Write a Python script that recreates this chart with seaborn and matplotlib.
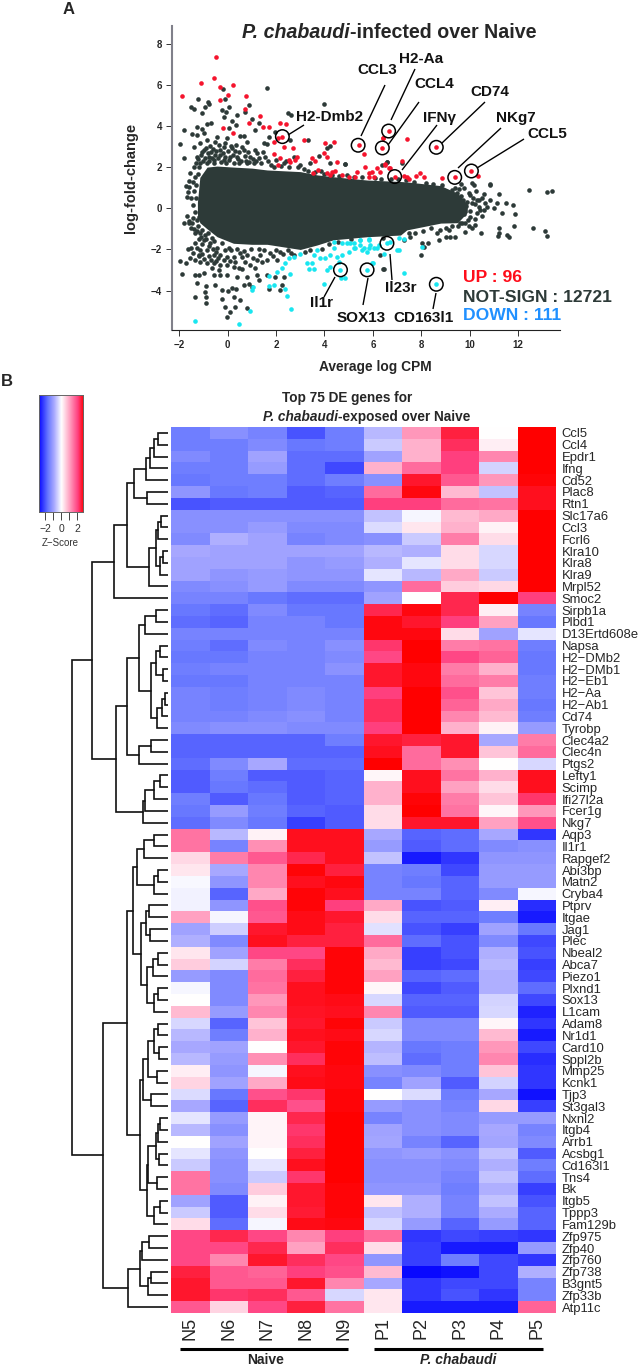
import numpy as np
import pandas as pd
import matplotlib
matplotlib.use("Agg")
import matplotlib.pyplot as plt
import seaborn as sns
from matplotlib.colors import LinearSegmentedColormap
from matplotlib.lines import Line2D

sns.set_theme(style="white")
plt.rcParams['font.family'] = ['Liberation Sans', 'DejaVu Sans']

W, H = 641, 1366

# ---- MA plot data ----
# outline of the dense part of the cloud
body_x = [-1.25, -1.15, -0.85, -0.44, 0.24, 1.0, 1.63, 3.0, 3.7, 4.37, 5.77, 7.14, 7.4, 8.8, 9.5, 9.9]
body_top = [0.3, 1.5, 2.0, 2.05, 2.0, 1.95, 1.86, 1.78, 1.62, 1.53, 1.37, 1.3, 1.28, 1.1, 0.73, 0.2]
body_bottom = [-0.3, -0.7, -1.0, -1.38, -1.7, -1.75, -1.75, -2.0, -1.78, -1.53, -1.38, -1.3, -1.05, -0.72, -0.7, -0.2]

dark_x = [-1.98, -1.79, -1.79, -1.23, -1.52, -1.38, -1.06, -0.95, -0.81, -0.79, -0.19, -0.12, -0.22, -0.06, 0.04, -0.14,
          0.39, 0.87, 0.73, 1.0, 1.63, 2.48, 2.63, 3.97, -1.27, -1.06, -0.85, -0.67, -0.99, -1.47, -1.27, 0.18, 0.36,
          0.04, -0.44, -0.03, 0.52, 0.66, 0.8, 1.14, 1.28, 1.49, 1.69, 1.63, 1.97, 3.31, 4.24, 2.59,
          -1.38, -1.13, -0.85, -0.72, -0.51, -0.3, -0.1, 0.18, 0.39, 0.66, 0.94, 1.21, 1.56, -1.27, -1.06, -0.79, -0.51,
          -0.17, 0.11, 0.45, 0.8, 1.07, -1.4, -1.54, -1.61, -1.34, -1.13, -0.85, -0.58, 1.9, 2.31, 2.73, 3.0, 3.42, 3.76,
          4.1, 4.24, 4.86, 6.58, 6.38,
          -1.96, -1.89, -1.72, -1.64, -1.82, -1.68, -1.68, -1.61, -1.47, -1.34, -1.34, -1.54, -1.34, -1.2, -1.36, -1.2,
          -1.27, -1.34, -0.9, -0.92, -0.9, -0.9, -0.51, -0.23, -0.1, 0.0, 0.18, -0.23, 0.36, 0.25, 0.5, 0.32, 0.11, -0.03,
          0.8, 1.0, 0.66, 0.87, 1.28, 1.69, 2.18, 2.25, 6.45,
          -0.99, -0.72, -0.44, -0.23, 0.04, -1.13, -0.85, -0.58, -0.3, -0.03, 0.25, 0.52, 0.8, -1.13, -0.85, -0.58, -0.3,
          -0.03, 0.25, 0.59, 0.94, 1.21, 1.63, 2.04, -0.99, -0.58, -0.3, -0.03, 0.39, 0.8, 1.21, 1.63, 1.97, 2.31, 1.35,
          1.76, 2.18, 2.73,
          12.44, 13.2, 13.42, 10.85, 11.2, 10.58, 10.5, 11.5, 11.8, 11.89, 11.34, 11.13, 10.72, 10.17, 10.1, 10.37, 10.3,
          10.5, 10.03, 9.82, 10.1, 11.2, 11.2, 11.16, 11.54, 11.61, 11.85, 12.62, 13.13, 13.2, 10.47, 9.82, 9.41, 9.2,
          9.0, 8.72, 8.27, 8.03, 7.97, 8.1, 6.42, 6.3, 8.79, 9.13, 9.6, 9.69, 9.89, 9.47, 9.75, 9.41, 9.27, 7.76, 7.55,
          7.28, 10.3, 10.03, 10.58, 10.99, 10.85, 10.85, 10.1, 9.62, 8.86, 7.2, 6.59, 4.86]
dark_y = [3.12, 3.8, 2.43, 5.29, 4.94, 4.82, 4.64, 4.94, 5.18, 5.06, 5.79, 5.29, 4.77, 4.69, 4.9, 4.42,
          4.53, 5.02, 4.69, 4.34, 5.86, 4.64, 4.53, 5.05, 3.96, 3.83, 4.09, 4.16, 3.64, 3.61, 3.56, 4.26, 4.05,
          3.88, 3.48, 3.4, 3.51, 3.51, 3.24, 3.8, 4.16, 3.16, 3.48, 3.12, 3.72, 3.32, 3.0, 3.32,
          2.99, 3.16, 3.32, 3.0, 3.24, 2.83, 3.16, 2.91, 2.51, 2.83, 2.51, 2.67, 2.51, 2.51, 2.75, 2.51, 2.59,
          2.35, 2.51, 2.18, 2.18, 2.18, 2.02, 1.7, 1.33, 1.54, 2.18, 2.18, 2.35, 2.02, 2.18, 2.51, 2.1, 2.18, 2.56,
          2.91, 2.18, 2.14, 2.27, 2.1,
          -2.54, -3.2, -2.67, -1.97, -0.73, -0.37, 0.57, -0.73, -0.73, -1.21, -1.7, -2.43, -2.51, -2.27, -3.24, -3.24,
          -3.61, -4.29, -3.77, -4.05, -4.29, -4.61, -3.72, -4.42, -4.77, -4.01, -3.88, -3.96, -3.93, -4.32, -4.45, -4.77,
          -5.02, -5.26, -4.85, -3.8, -3.72, -3.67, -3.48, -3.93, -3.96, -3.72, -2.96,
          -1.54, -1.7, -1.94, -1.7, -1.94, -2.02, -2.02, -2.27, -2.27, -2.35, -2.35, -2.18, -2.27, -2.59, -2.67, -2.67,
          -2.75, -2.75, -2.83, -2.96, -2.75, -2.51, -2.51, -2.51, -3.16, -3.24, -3.24, -3.24, -3.32, -3.32, -3.24, -3.24,
          -3.32, -3.32, -2.27, -2.18, -2.1, -2.27,
          0.89, 0.81, 0.84, 1.13, 0.7, 0.7, 0.49, 0.24, 0.16, -0.29, -0.24, 0.24, 0.08, 1.13, 0.24, 0.08, -0.24,
          -0.37, -0.4, -0.73, -0.97, -0.94, -1.21, -1.34, -1.29, -1.38, -0.84, -0.97, -1.08, -1.34, -1.18, -1.13, -1.38,
          -1.38, -1.38, -1.54, -1.67, -1.7, -2.28, -1.86, -2.96, -2.27, -1.05, -1.05, -0.73, -0.08, 0.32, 0.73, 0.97,
          0.97, 0.89, -1.21, -1.38, -1.54, 0.4, 0.65, -0.08, 0.0, 0.4, 1.17, 1.21, 1.17, 1.13, 2.18, 2.27, 2.14]

# crowded fringe of the cloud, read region by region
fringe_upper = [(-1.31, 2.22), (-1.22, 2.38), (-1.17, 1.98), (-1.09, 2.6), (-1.02, 2.3), (-0.96, 2.82), (-0.93, 2.45),
                (-0.88, 2.95), (-0.82, 2.66), (-0.76, 2.28), (-0.69, 2.72), (-0.65, 2.44), (-0.6, 2.9), (-0.55, 2.2),
                (-0.48, 2.78), (-0.42, 2.42), (-0.37, 3.05), (-0.33, 2.6), (-0.27, 2.25), (-0.21, 2.7), (-0.15, 2.98),
                (-0.11, 2.48), (-0.05, 2.2), (0.0, 2.76), (0.07, 2.34), (0.12, 3.02), (0.2, 2.6), (0.25, 2.22), (0.31, 2.8),
                (0.35, 3.05), (0.42, 2.4), (0.48, 2.72), (0.55, 2.28), (0.6, 2.98), (0.7, 2.55), (0.75, 2.3), (0.85, 2.72),
                (0.9, 2.26), (1.03, 2.4), (1.12, 2.85), (1.18, 2.3), (1.3, 2.42), (1.38, 2.18), (1.45, 2.75), (1.66, 2.3),
                (1.78, 2.12), (2.0, 2.35), (2.2, 2.05), (2.42, 2.28), (2.55, 2.02), (2.9, 1.98), (3.15, 1.92), (3.3, 1.82),
                (3.6, 1.76), (3.85, 1.82), (4.0, 1.66), (4.3, 1.62), (4.6, 1.58), (4.95, 1.62), (5.2, 1.5), (5.55, 1.52),
                (6.1, 1.46), (6.35, 1.42), (6.75, 1.4), (7.05, 1.42), (7.35, 1.36), (7.7, 1.28), (8.2, 1.22), (8.5, 1.2)]
fringe_left = [(-1.72, 1.1), (-1.62, 0.8), (-1.58, 1.05), (-1.5, 0.48), (-1.45, 1.3), (-1.42, 0.15), (-1.38, 0.85),
               (-1.35, -0.2), (-1.32, 1.12), (-1.3, 0.5), (-1.27, -0.55), (-1.24, 1.65), (-1.22, -0.88), (-1.18, -0.42),
               (-1.58, -0.6), (-1.52, -0.95), (-1.43, -0.45), (-1.38, -1.0), (-1.28, -1.12), (-1.15, -1.2), (-1.08, -1.05),
               (-1.2, -1.5), (-1.12, -1.38), (-1.04, -1.72), (-0.95, -1.3), (-0.88, -1.5), (-0.8, -1.2), (-0.76, -1.85),
               (-0.66, -1.45), (-0.62, -1.98), (-0.55, -1.6), (-0.48, -2.12)]
fringe_lower = [(-1.5, -1.95), (-1.42, -2.18), (-1.26, -1.92), (-1.18, -2.32), (-1.05, -2.22), (-0.96, -2.48),
                (-0.78, -2.3), (-0.68, -2.5), (-0.66, -2.9), (-0.48, -2.58), (-0.4, -2.4), (-0.36, -2.98), (-0.16, -2.5),
                (-0.12, -2.02), (0.1, -2.58), (0.15, -2.05), (0.32, -2.62), (0.4, -1.98), (0.45, -2.92), (0.6, -2.35),
                (0.68, -2.08), (0.72, -2.62), (0.98, -2.0), (1.05, -2.42), (1.12, -2.88), (1.28, -1.98), (1.42, -2.6),
                (1.52, -2.05), (1.88, -2.3), (1.98, -2.02), (2.3, -2.22), (2.48, -2.05), (2.62, -2.15), (3.2, -2.12),
                (3.4, -2.05), (3.9, -1.98), (4.2, -1.72), (4.55, -1.62), (5.1, -1.5), (6.4, -1.42), (7.5, -1.22), (8.05, -1.08),
                (8.4, -0.95), (8.65, -1.2), (9.25, -0.85), (9.0, -0.95)]
fringe_right = [(9.55, 0.95), (9.62, 0.62), (9.74, 0.42), (9.78, -0.3), (9.85, 0.1), (9.92, -0.55), (9.98, 0.72),
                (10.02, -0.12), (10.12, 0.5), (10.2, 0.2), (10.22, -0.52), (10.28, 0.82), (10.4, 0.42), (10.44, -0.1),
                (10.62, 0.28), (9.5, -0.85), (9.7, -0.72), (9.95, -0.88), (10.22, -0.8)]

red_x = [-1.87, -1.09, -0.58, -0.47, -0.33, 0.22, 0.01, -0.3, 0.76, 0.73, 0.87, -0.21, 0.21, 1.35, 1.46, 1.69, 2.18, 2.4,
         2.26, 2.08, 1.9, 2.31, 2.7, 1.9, 2.15, 2.07, 2.52, 2.59, 2.87, 2.77, 3.17, 3.5, 3.62, 3.51, 3.72, 3.99, 4.1, 4.01,
         4.39, 4.52, 4.1, 4.31, 4.45, 4.24, 4.72, 5.0, 5.34, 5.28, 5.83, 5.96, 5.83, 6.17, 6.28, 6.52, 6.69, 6.03, 5.69,
         5.62, 5.44, 6.42, 6.39, 6.65, 6.9, 7.41, 6.4, 7.2, 8.62, 10.07, 10.34, 9.38, 8.86, 7.41, 7.51, 7.8, 7.96, 8.1,
         7.27, 6.68, 6.49]
red_y = [5.47, 6.08, 6.31, 7.36, 5.87, 6.0, 5.49, 5.26, 5.47, 4.84, 4.16, 3.92, 3.64, 4.48, 3.93, 3.93, 4.16, 4.11,
         3.48, 3.4, 3.24, 2.96, 2.93, 2.64, 2.43, 2.09, 2.35, 2.23, 2.51, 2.35, 3.33, 2.43, 2.3, 1.7, 1.86, 2.67, 2.51, 3.19,
         3.2, 2.23, 1.7, 1.78, 1.83, 1.62, 1.62, 1.54, 1.78, 1.54, 1.7, 1.78, 1.54, 1.94, 1.78, 2.14, 1.97, 1.54, 2.02,
         2.62, 3.06, 3.4, 2.93, 3.75, 1.54, 3.35, 3.4, 2.3, 2.96, 1.81, 1.57, 1.5, 1.49, 1.54, 1.42, 1.59, 1.7, 1.54,
         1.59, 1.97, 2.12]

cyan_x = [-1.34, 0.48, 0.91, 1.05, 1.0, 1.69, 1.69, 1.9, 2.04, 2.25, 2.38, 2.59, 2.38, 2.45, 2.62, 2.52, 2.73, 3.0, 3.28,
          3.48, 3.35, 3.55, 3.83, 3.55, 3.69, 4.04, 4.24, 4.38, 4.1, 3.99, 4.24, 4.52, 4.59, 4.72, 4.66, 4.86, 4.68, 5.0,
          4.93, 5.21, 5.48, 5.83, 5.62, 5.76, 6.03, 5.99, 5.76, 6.45, 6.58, 6.24, 6.17, 4.38, 4.72, 5.28, 5.48, 5.9, 6.72,
          7.07, 5.48, 5.82, 5.07, 5.21, 5.55, 5.82, 5.96, 7.0, 7.07, 7.27, 7.27, 8.62, 8.03]
cyan_y = [-5.45, -5.61, -4.98, -3.83, -3.96, -3.77, -3.27, -3.72, -3.07, -2.91, -2.67, -3.19, -3.93, -4.24, -4.9, -2.43,
          -2.38, -2.22, -2.64, -2.67, -2.96, -2.96, -2.43, -2.27, -2.02, -2.39, -2.27, -1.94, -2.99, -3.67, -2.83, -2.35,
          -2.59, -2.27, -2.99, -3.4, -3.4, -2.1, -1.7, -1.7, -1.54, -1.54, -1.94, -2.1, -1.94, -2.67, -2.99, -2.23, -1.7,
          -1.78, -1.94, -1.62, -1.7, -1.94, -1.78, -1.78, -1.62, -2.02, -1.54, -1.5, -1.7, -1.94, -2.02, -1.94, -2.67,
          -2.05, -1.46, -1.5, -3.16, -3.69, -1.86]

# circled genes: value on each axis
gene_names = ['H2-Dmb2', 'CCL3', 'H2-Aa', 'CCL4', 'IFN\u03b3', 'CD74', 'NKg7', 'CCL5', 'Il1r', 'SOX13', 'Il23r', 'CD163l1']
gene_x = [2.26, 5.39, 6.65, 6.39, 6.9, 8.62, 9.38, 10.07, 4.66, 5.76, 6.58, 8.62]
gene_y = [3.48, 3.06, 3.75, 2.93, 1.54, 2.96, 1.5, 1.81, -2.99, -2.99, -1.7, -3.69]

x_ticks = [-2, 0, 2, 4, 6, 8, 10, 12]
y_ticks = [-4, -2, 0, 2, 4, 6, 8]
count_labels = ['UP : 96', 'NOT-SIGN : 12721', 'DOWN : 111']

# ---- heatmap data ----
samples = ['N5', 'N6', 'N7', 'N8', 'N9', 'P1', 'P2', 'P3', 'P4', 'P5']
genes = ['Ccl5', 'Ccl4', 'Epdr1', 'Ifng', 'Cd52', 'Plac8', 'Rtn1', 'Slc17a6', 'Ccl3', 'Fcrl6', 'Klra10', 'Klra8', 'Klra9',
         'Mrpl52', 'Smoc2', 'Sirpb1a', 'Plbd1', 'D13Ertd608e', 'Napsa', 'H2\u2212DMb2', 'H2\u2212DMb1', 'H2\u2212Eb1',
         'H2\u2212Aa', 'H2\u2212Ab1', 'Cd74', 'Tyrobp', 'Clec4a2', 'Clec4n', 'Ptgs2', 'Lefty1', 'Scimp', 'Ifi27l2a', 'Fcer1g',
         'Nkg7', 'Aqp3', 'Il1r1', 'Rapgef2', 'Abi3bp', 'Matn2', 'Cryba4', 'Ptprv', 'Itgae', 'Jag1', 'Plec', 'Nbeal2', 'Abca7',
         'Piezo1', 'Plxnd1', 'Sox13', 'L1cam', 'Adam8', 'Nr1d1', 'Card10', 'Sppl2b', 'Mmp25', 'Kcnk1', 'Tjp3', 'St3gal3',
         'Nxnl2', 'Itgb4', 'Arrb1', 'Acsbg1', 'Cd163l1', 'Tns4', 'Bk', 'Itgb5', 'Tppp3', 'Fam129b', 'Zfp975', 'Zfp40', 'Zfp760',
         'Zfp738', 'B3gnt5', 'Zfp33b', 'Atp11c']
zscores = [
    [-1.7, -1.4, -1.6, -2.2, -1.7, -0.8, 1.2, 2.6, 0, 3],
    [-1.7, -1.7, -1.5, -1.8, -1.7, -0.6, 0.9, 2.4, 0.2, 3],
    [-1.5, -1.7, -1.1, -1.9, -1.9, -1.1, 0.9, 2.2, 1.4, 3],
    [-1.7, -1.7, -1.2, -1.9, -2.3, 0.9, 1.7, 2.2, -0.5, 3],
    [-1.8, -1.7, -1.7, -1.9, -1.7, -1.4, 2.7, 1.9, 1.2, 2.95],
    [-1.3, -1.8, -1.7, -2.1, -2.0, 1.7, 2.9, 0.8, -0.7, 2.8],
    [-2.2, -2.1, -2.1, -2.1, -2.1, 2.2, 2.2, 1.7, 1.6, 2.8],
    [-1.4, -1.4, -1.4, -1.4, -1.4, -0.7, -0.1, 0.8, 1.0, 3],
    [-1.4, -1.4, -1.2, -1.5, -1.5, -0.4, 0.3, 0.9, 0.15, 3],
    [-1.5, -0.9, -1.1, -1.6, -1.5, -1.4, -0.6, 1.5, 0.4, 3],
    [-1.0, -1.1, -1.1, -1.1, -1.1, -0.8, -0.9, 0.4, -0.45, 3],
    [-1.1, -1.1, -1.1, -1.3, -1.2, -0.9, -0.3, 0.4, -0.45, 3],
    [-1.1, -1.3, -1.2, -1.3, -1.3, -0.3, -0.8, 1.0, -0.6, 3],
    [-1.5, -1.4, -1.2, -1.5, -1.5, -1.3, 1.7, 0.6, 0.45, 3],
    [-1.6, -1.6, -1.8, -1.9, -1.9, -1.1, 0, 2.5, 3, 2.2],
    [-1.8, -1.9, -1.5, -1.8, -1.8, 2.5, 2.9, 2.5, 0.2, -1.6],
    [-1.9, -2.0, -1.6, -1.6, -1.8, 2.9, 2.7, 2.2, 1.1, -1.8],
    [-1.6, -1.6, -1.6, -1.6, -1.6, 2.9, 2.9, 0.4, -1.1, -0.3],
    [-1.7, -1.9, -1.5, -1.6, -1.4, 2.3, 3, 1.5, 1.6, -1.7],
    [-1.8, -1.8, -1.6, -1.6, -1.5, 2.1, 3, 2.1, 1.8, -1.8],
    [-1.7, -1.6, -1.6, -1.6, -1.35, 2.7, 2.9, 1.5, 0.9, -1.8],
    [-1.8, -1.8, -1.6, -1.6, -1.6, 2.7, 2.9, 1.7, 1.5, -1.7],
    [-1.6, -1.7, -1.6, -1.5, -1.6, 2.2, 3, 2.0, 0.7, -1.7],
    [-1.6, -1.7, -1.6, -1.5, -1.6, 2.4, 3, 1.8, 1.0, -1.8],
    [-1.6, -1.6, -1.5, -1.4, -1.6, 2.4, 3, 1.4, 0.8, -1.7],
    [-1.5, -1.4, -1.4, -1.5, -1.5, 2.2, 3, 0.9, 0.15, -1.2],
    [-2.0, -2.0, -2.0, -2.0, -1.7, 2.7, 2.6, 2.7, -1.0, 1.5],
    [-2.0, -2.0, -2.0, -2.0, -2.0, 2.8, 1.7, 2.7, 0.7, 1.7],
    [-1.9, -1.5, -1.0, -1.9, -1.9, 3, 1.7, 1.3, 0, -0.45],
    [-2.1, -1.7, -2.1, -2.1, -2.0, 0.1, 2.8, 1.6, 0.9, 2.8],
    [-2.1, -1.8, -1.9, -2.1, -2.0, 0.9, 2.8, 1.1, 0.4, 2.8],
    [-1.7, -2.1, -1.8, -2.1, -2.0, 0.9, 2.95, 1.5, 0.7, 2.3],
    [-1.8, -1.2, -1.7, -2.0, -2.1, 0.4, 3, 1.6, 0.1, 1.2],
    [-1.9, -1.5, -1.8, -2.4, -2.1, 0.4, 2.7, 2.7, 1.1, 2.0],
    [1.6, -0.8, 0.15, 2.8, 2.8, -1.0, -2.0, -1.9, -1.0, -2.5],
    [1.6, -1.6, 1.3, 2.8, 2.8, -1.2, -2.1, -1.9, -1.5, -1.4],
    [0.45, 1.5, 1.9, 2.5, 2.8, -0.7, -2.8, -2.5, -1.3, -1.3],
    [0.3, -1.0, 1.4, 2.95, 2.6, -1.6, -1.7, -2.3, -1.2, -1.2],
    [-0.08, -1.3, 1.4, 2.8, 2.9, -1.6, -1.8, -2, -1.2, -1.2],
    [-0.15, -2.0, 1.0, 2.95, 2.8, -1.6, -1.6, -2.0, -1.5, -0.1],
    [-0.15, -1.3, 2.0, 2.95, 2.2, 1.0, -2.2, -2.1, 0.2, -2.6],
    [1.1, -0.1, 1.9, 2.85, 2.7, 0.4, -2.0, -2.0, -1.7, -2.8],
    [-1.1, -0.55, 2.7, 2.85, 2.6, -0.35, -2.2, -2.4, -1.1, -1.8],
    [-0.9, -1.5, 2.8, 2.6, 2.6, 1.7, -1.9, -2.2, -1.5, -2.3],
    [0.3, -1.1, 2.1, 2.1, 2.95, 1.0, -2.4, -2.2, -0.9, -2.2],
    [0.6, -0.5, 1.5, 2.4, 2.95, 0.8, -2.4, -2.3, -0.8, -2.4],
    [-1.2, -1.5, 1.7, 2.6, 2.95, 1.1, -2.0, -1.9, -0.9, -2.3],
    [-0.1, -1.5, 1.6, 2.8, 2.95, 0.1, -2.3, -2.1, -0.9, -1.9],
    [0, -1.5, 1.2, 2.8, 2.85, -0.45, -2.0, -2.0, -0.5, -2.3],
    [0.8, -1.2, 1.4, 2.75, 2.8, 1.4, -2.1, -2.1, -0.45, -2.7],
    [-0.45, -2.0, 0.7, 2.7, 2.95, -0.6, -1.5, -1.5, 0.1, -2.5],
    [-0.8, -1.7, 0.9, 2.8, 2.85, -0.45, -1.5, -1.5, 0.8, -2.8],
    [-1.0, -1.1, 0, 2.7, 2.95, -0.85, -1.8, -1.7, 1.2, -2.3],
    [-0.8, -1.2, 1.3, 2.4, 2.95, -0.75, -1.9, -1.7, 1.4, -2.6],
    [0.2, -1.3, -0.1, 2.8, 2.9, -1.4, -1.5, -1.7, 0.7, -2.5],
    [0.5, -1.1, 1.0, 2.85, 2.9, -1.6, -1.1, -2.1, -0.5, -2.5],
    [-0.4, -1.8, 2.0, 2.3, 2.95, 0, -0.4, -1.7, -1.0, -2.9],
    [-1.0, -2.0, 2.4, 2.0, 2.95, -1.2, -1.4, -1.6, 0.45, -2.4],
    [-0.3, -1.2, 0.12, 2.5, 3, -1.6, -1.4, -1.5, -1.2, -1.2],
    [-0.8, -1.4, 0.12, 2.3, 3, -1.1, -1.4, -1.5, -1.0, -1.6],
    [0, -1.1, 0.12, 2.4, 3, -1.05, -1.6, -2.0, -1.05, -1.5],
    [-0.3, -1.3, 0, 2.6, 3, -1.3, -1.2, -1.4, -0.7, -2.1],
    [-0.6, -1.4, -0.3, 2.8, 3, -1.4, -1.4, -1.5, -0.9, -1.7],
    [1.6, -1.4, -0.6, 2.3, 3, -1.4, -1.4, -1.6, -0.7, -1.9],
    [1.6, -1.5, 0.6, 2.7, 2.95, -1.3, -1.3, -1.7, -0.9, -2.4],
    [-1.1, -2.1, 0.15, 2.7, 2.95, 0.3, -0.9, -1.6, -0.7, -2.2],
    [-0.6, -2.1, 0.4, 2.65, 2.95, -0.7, -0.9, -1.6, -0.95, -2.0],
    [0.4, -1.9, -0.1, 2.85, 2.9, -0.45, -1.2, -2.0, -1.2, -2.0],
    [2.1, 2.5, 2.1, 1.4, 2.2, 1.7, -2.5, -2.3, -2.4, -2.5],
    [2.1, 2.1, 2.5, 1.1, 2.4, 0.4, -2.4, -2.8, -2.8, -1.2],
    [2.1, 1.4, 2.7, 2.4, 2.1, -1.3, -2.4, -1.7, -2.3, -2.5],
    [2.6, 1.9, 1.8, 2.2, 2.0, 0.8, -3, -2.9, -2.3, -0.9],
    [2.7, 1.9, 1.9, 2.7, 1.4, -1, -2.5, -2.3, -2.3, -1.6],
    [2.7, 2.3, 2.4, 1.9, -0.45, 0.3, -2.5, -2.2, -2.5, -1.6],
    [1.9, 0.5, 2.1, 2.6, 1.6, 0.3, -2.8, -2.8, -2.8, 1.8],
]

# row dendrogram as nested (height, upper, lower), L is a leaf; leaves come in row order
L = None
row_tree = (96.3,
    (75.7,
        (53.7,
            (41.3,
                (34, (22, (18, (14, (9.7, L, L), L), L), L), (21, L, L)),
                (19, (12, (10.3, (7.3, L, L), L), (7.7, (5.3, L, L), L)), L)),
            L),
        (52.3,
            (41.3,
                (29,
                    (23.3, (12, L, L), L),
                    (16.7,
                        (12.3, (8, L, L), (5.3, L, L)),
                        (10.7, (6.3, (3.3, L, L), L), L))),
                (29, (16.7, L, L), L)),
            (25.3, (23.3, (13.7, (8, L, L), L), L), L))),
    (64.7,
        (40.7,
            (35.3,
                (31.3, (24, (13.7, L, L), L), (13.7, (9.7, L, L), L)),
                (27.3,
                    (22.3, (19, L, L), (18, L, L)),
                    (20.7, (15.3, (9.7, L, L), L), (13.7, (9.7, L, L), L)))),
            (28,
                (24.7, (20, (13.7, (9.7, L, L), (9, L, L)), (10.7, L, L)), (17.3, L, L)),
                (21.3,
                    (19.7, (12, (9.7, (8, L, L), L), (9, L, L)), (11.3, L, L)),
                    (13.7, (8, L, L), L)))),
        (40.3, (28, (26.3, (18.7, L, L), L), (20.3, (17.3, L, L), L)), L)))


def px_axes(x0, y0, x1, y1):
    # axes from pixel box, y counted from the top of the picture
    return fig.add_axes([x0 / W, 1 - y1 / H, (x1 - x0) / W, (y1 - y0) / H])


def px_text(x, y, s, **kw):
    kw.setdefault('ha', 'center')
    kw.setdefault('va', 'center')
    return fig.text(x / W, 1 - y / H, s, **kw)


def px_line(x0, y0, x1, y1, lw=1.0, color='black'):
    fig.add_artist(Line2D([x0 / W, x1 / W], [1 - y0 / H, 1 - y1 / H], transform=fig.transFigure,
                          color=color, lw=lw, solid_capstyle='butt'))


fig = plt.figure(figsize=(W / 100, H / 100), dpi=100)

# ---- panel A ----
DARK = '#2d3a38'
ax = px_axes(172, 26, 560, 330)
ax.fill_between(body_x, body_bottom, body_top, color=DARK, lw=0, zorder=1)
fringe = pd.DataFrame(fringe_upper + fringe_left + fringe_lower + fringe_right, columns=['logcpm', 'logfc'])
sns.scatterplot(data=fringe, x='logcpm', y='logfc', ax=ax, color=DARK, s=11, linewidth=0, zorder=2)
sns.scatterplot(x=dark_x, y=dark_y, ax=ax, color=DARK, s=11, linewidth=0, zorder=2)
sns.scatterplot(x=cyan_x, y=cyan_y, ax=ax, color='#19e6f0', s=11, linewidth=0, zorder=3)
sns.scatterplot(x=red_x, y=red_y, ax=ax, color='#f5142d', s=11, linewidth=0, zorder=3)
ax.scatter(gene_x, gene_y, s=95, facecolors='none', edgecolors='black', linewidths=1.1, zorder=4)
ax.set_xlim(-2.30, 13.73)
ax.set_ylim(-5.91, 8.85)
ax.set_xticks(x_ticks)
ax.set_yticks(y_ticks)
sns.despine(ax=ax)
ax.spines['left'].set_color('#80808a')
ax.spines['left'].set_linewidth(1.5)
ax.spines['bottom'].set_color('#222222')
ax.spines['bottom'].set_linewidth(0.8)
ax.tick_params(axis='both', length=4, width=0.7, color='#333333', labelsize=7, pad=3, left=True, bottom=True)
for lab in ax.get_xticklabels() + ax.get_yticklabels():
    lab.set_fontweight('bold')
ax.set_xlabel('')
ax.set_ylabel('')

px_text(69, 9, 'A', fontsize=12, fontweight='bold')
px_text(350, 32, 'P. chabaudi', fontsize=14.1, fontweight='bold', style='italic', ha='right')
px_text(350, 32, '-infected over Naive', fontsize=14.1, fontweight='bold', ha='left')
px_text(131, 178, 'log-fold-change', fontsize=10.5, fontweight='bold', rotation=90)
px_text(375, 367, 'Average log CPM', fontsize=9.9, fontweight='bold')

label_pos = [(330, 117), (377, 70), (421, 59), (434, 84), (440, 118), (490, 92),
             (516, 118), (547, 134), (322, 303), (361, 318), (401, 288), (423, 318)]
leader_pos = [(304, 125, 288, 135), (385, 85, 361, 136), (415, 69, 391, 120), (419, 102, 388, 145),
              (437, 125, 402, 170), (485, 102, 442, 143), (501, 128, 458, 168), (524, 139, 477, 168),
              (335, 277, 324, 297), (368, 278, 363, 305), (390, 254, 392, 280), (436, 293, 433, 309)]
for name, (tx, ty), seg in zip(gene_names, label_pos, leader_pos):
    px_text(tx, ty, name, fontsize=11, fontweight='bold', color='#111111')
    px_line(*seg, lw=1.0)

count_colors = ['#ff0d1a', DARK, '#2090ff']
for lab, col, yy in zip(count_labels, count_colors, [278, 297, 316]):
    px_text(463, yy, lab, fontsize=12.6, fontweight='bold', color=col, ha='left')

# ---- panel B ----
px_text(7, 381, 'B', fontsize=12, fontweight='bold')
px_text(347, 398, 'Top 75 DE genes for', fontsize=9.8, fontweight='bold')
px_text(338, 417, 'P. chabaudi', fontsize=9.8, fontweight='bold', style='italic', ha='right')
px_text(338, 417, '-exposed over Naive', fontsize=9.8, fontweight='bold', ha='left')

zmap = LinearSegmentedColormap.from_list('zscore', [
    (0.0, '#0808ff'), (0.2, '#6878ff'), (0.335, '#a8a8ff'), (0.5, '#ffffff'),
    (0.685, '#ffa0c0'), (0.865, '#ff4080'), (1.0, '#ff0000')])

# colour key
key = px_axes(39, 395, 83, 512)
key_vals = np.linspace(-3, 3, 256)
key.imshow(key_vals[np.newaxis, :], aspect='auto', cmap=zmap, vmin=-3, vmax=3, extent=[-2.75, 2.75, 0, 1])
key.set_yticks([])
key.set_xticks([-2, -1, 0, 1, 2])
key.set_xticklabels(['\u22122', '', '0', '', '2'], fontsize=7.5, color='#333333')
key.tick_params(axis='x', length=6, width=0.7, color='#444444', pad=3, bottom=True)
for sp in key.spines.values():
    sp.set_visible(True)
    sp.set_color('#666666')
    sp.set_linewidth(0.7)
px_text(60.5, 543, 'Z\u2212Score', fontsize=7, color='#333333')

# main heatmap
table = pd.DataFrame(zscores, index=genes, columns=samples)
hm = px_axes(171, 427, 556, 1313)
sns.heatmap(table, ax=hm, cmap=zmap, vmin=-3, vmax=3, cbar=False, xticklabels=True, yticklabels=True)
hm.yaxis.tick_right()
hm.tick_params(axis='both', length=0)
hm.tick_params(axis='y', labelsize=9.4, pad=4, labelrotation=0)
hm.tick_params(axis='x', labelsize=13, pad=3, labelrotation=90)
hm.set_xlabel('')
hm.set_ylabel('')

# dendrogram on the left of the heatmap
den = px_axes(60, 427, 168, 1313)
den.set_xlim(108, 0)
den.set_ylim(75, 0)
den.axis('off')
next_leaf = [0]


def draw_node(node):
    # returns (height, row position) and draws the branch
    if node is None:
        pos = next_leaf[0] + 0.5
        next_leaf[0] += 1
        return 0, pos
    h, upper, lower = node
    h1, y1 = draw_node(upper)
    h2, y2 = draw_node(lower)
    den.plot([h1, h, h, h2], [y1, y1, y2, y2], color='#111111', lw=1.2, solid_joinstyle='miter')
    return h, (y1 + y2) / 2


draw_node(row_tree)

# group bars under the columns
px_line(180, 1349, 348, 1349, lw=2.2)
px_line(374, 1349, 543, 1349, lw=2.2)
px_text(266, 1360, 'Naive', fontsize=10, fontweight='bold')
px_text(458, 1360, 'P. chabaudi', fontsize=10, fontweight='bold', style='italic')

fig.savefig('out.png', dpi=100)
